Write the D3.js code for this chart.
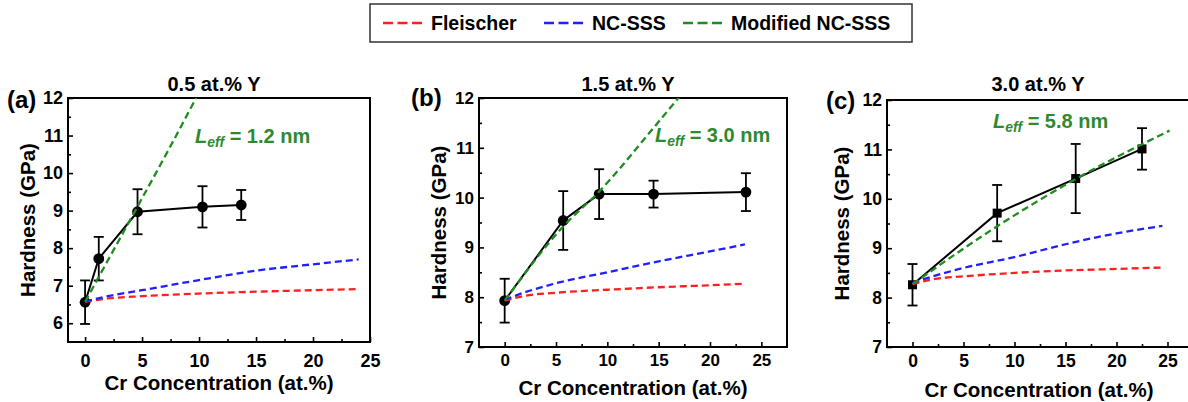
<!DOCTYPE html>
<html>
<head>
<meta charset="utf-8">
<script src="https://cdn.jsdelivr.net/npm/d3@7"></script>
<style>
  body { margin: 0; background: #fff; }
  svg { display: block; font-family: "Liberation Sans", Arial, sans-serif; font-weight: bold; }
</style>
</head>
<body>
<div id="chart"></div>
<script>
// ---- data ----
const xTicks = [0, 5, 10, 15, 20, 25];
const xMinor = [2.5, 7.5, 12.5, 17.5, 22.5];
const legendNames = ["Fleischer", "NC-SSS", "Modified NC-SSS"];
const panelLetters = ["(a)", "(b)", "(c)"];
const panelTitles = ["0.5 at.% Y", "1.5 at.% Y", "3.0 at.% Y"];
const leffValues = ["1.2", "3.0", "5.8"];

// (a) 0.5 at.% Y
const aConc = [0, 1.2, 4.6, 10.3, 13.7];
const aHard = [6.56, 7.72, 8.97, 9.10, 9.15];
const aErr = [0.58, 0.58, 0.60, 0.55, 0.40];
const aModelX = [0, 2, 5, 10, 15, 20, 24];
const aFleischer = [6.57, 6.66, 6.72, 6.79, 6.84, 6.88, 6.91];
const aNcsss = [6.58, 6.72, 6.88, 7.15, 7.40, 7.57, 7.70];
const aModX = [0, 2.5, 5, 7.5, 10];
const aModified = [6.57, 7.95, 9.33, 10.72, 12.15];

// (b) 1.5 at.% Y
const bConc = [0, 5.7, 9.2, 14.5, 23.5];
const bHard = [7.93, 9.54, 10.07, 10.07, 10.11];
const bErr = [0.44, 0.59, 0.50, 0.27, 0.38];
const bModelX = [0, 2, 5, 10, 15, 20, 23.4];
const bFleischer = [7.93, 8.03, 8.09, 8.15, 8.20, 8.24, 8.27];
const bNcsss = [7.95, 8.10, 8.28, 8.50, 8.72, 8.92, 9.06];
const bModX = [0, 5.7, 9.2, 14.5, 17];
const bModified = [7.93, 9.42, 10.12, 11.40, 12.02];

// (c) 3.0 at.% Y
const cConc = [0, 8.3, 16.0, 22.5];
const cHard = [8.26, 9.71, 10.41, 11.01];
const cErr = [0.42, 0.57, 0.70, 0.42];
const cModelX = [0, 2, 5, 10, 15, 20, 24.5];
const cFleischer = [8.27, 8.37, 8.43, 8.50, 8.55, 8.58, 8.61];
const cNcsss = [8.30, 8.43, 8.60, 8.82, 9.08, 9.30, 9.45];
const cModX = [0, 4, 8.2, 16, 25.2];
const cModified = [8.27, 8.85, 9.43, 10.40, 11.38];

const modelColors = ["#ff1f1f", "#1f1fff", "#1e8c1e"];
const leffColor = "#2f8a2f";

// ---- layout of the three panels (pixels) ----
const panels = [
  { key: "a", left: 68, right: 370, top: 98, bottom: 342, xDomain: [-1.5, 25], yDomain: [5.5, 12],
    yTicks: [6, 7, 8, 9, 10, 11, 12], yMinor: [6.5, 7.5, 8.5, 9.5, 10.5, 11.5], marker: "circle",
    tickFont: 18, xPad: 12, xTitleY: 390, yTitleX: 28, titleX: 214, letterX: 7, letterY: 108,
    leffX: 195, leffY: 143,
    conc: aConc, hard: aHard, err: aErr,
    models: [[aModelX, aFleischer], [aModelX, aNcsss], [aModX, aModified]] },
  { key: "b", left: 479, right: 787, top: 98, bottom: 347, xDomain: [-2.5, 27.5], yDomain: [7, 12],
    yTicks: [7, 8, 9, 10, 11, 12], yMinor: [7.5, 8.5, 9.5, 10.5, 11.5], marker: "circle",
    tickFont: 17, xPad: 7, xTitleY: 395, yTitleX: 439, titleX: 628, letterX: 411, letterY: 106,
    leffX: 655, leffY: 142,
    conc: bConc, hard: bHard, err: bErr,
    models: [[bModelX, bFleischer], [bModelX, bNcsss], [bModX, bModified]] },
  { key: "c", left: 887, right: 1193, top: 100, bottom: 347, xDomain: [-2.5, 27.5], yDomain: [7, 12],
    yTicks: [7, 8, 9, 10, 11, 12], yMinor: [7.5, 8.5, 9.5, 10.5, 11.5], marker: "square",
    tickFont: 17.5, xPad: 8, xTitleY: 397, yTitleX: 842, titleX: 1038, letterX: 826, letterY: 109,
    leffX: 993, leffY: 128,
    conc: cConc, hard: cHard, err: cErr,
    models: [[cModelX, cFleischer], [cModelX, cNcsss], [cModX, cModified]] }
];

const svg = d3.select("#chart")
  .append("svg")
  .attr("width", 1188)
  .attr("height", 402);

const defs = svg.append("defs");

// strip the default axis styling so our font applies
function styleAxis(sel, size) {
  sel.attr("font-family", null).attr("font-size", null);
  sel.select(".domain").remove();
  sel.selectAll("line").attr("stroke", "#000").attr("stroke-width", 1.6);
  sel.selectAll("text").attr("fill", "#000").attr("font-size", size);
}

function drawPanel(p, i) {
  const x = d3.scaleLinear().domain(p.xDomain).range([p.left, p.right]);
  const y = d3.scaleLinear().domain(p.yDomain).range([p.bottom, p.top]);
  const g = svg.append("g");

  // clip everything that leaves the plot box (green line goes past 12)
  defs.append("clipPath")
    .attr("id", "clip-" + p.key)
    .append("rect")
    .attr("x", p.left).attr("y", p.top)
    .attr("width", p.right - p.left).attr("height", p.bottom - p.top);

  // Add X axis (ticks point inward)
  g.append("g")
    .attr("transform", `translate(0, ${p.bottom})`)
    .call(d3.axisBottom(x).tickValues(xMinor).tickSize(-3).tickFormat(""))
    .call(s => styleAxis(s, p.tickFont));
  g.append("g")
    .attr("transform", `translate(0, ${p.bottom})`)
    .call(d3.axisBottom(x).tickValues(xTicks).tickSize(-5).tickPadding(p.xPad).tickFormat(d3.format("d")))
    .call(s => styleAxis(s, p.tickFont));

  // Add Y axis
  g.append("g")
    .attr("transform", `translate(${p.left}, 0)`)
    .call(d3.axisLeft(y).tickValues(p.yMinor).tickSize(-3).tickFormat(""))
    .call(s => styleAxis(s, p.tickFont));
  g.append("g")
    .attr("transform", `translate(${p.left}, 0)`)
    .call(d3.axisLeft(y).tickValues(p.yTicks).tickSize(-5).tickPadding(5).tickFormat(d3.format("d")))
    .call(s => styleAxis(s, p.tickFont));

  // frame
  g.append("rect")
    .attr("x", p.left).attr("y", p.top)
    .attr("width", p.right - p.left).attr("height", p.bottom - p.top)
    .attr("fill", "none").attr("stroke", "#000").attr("stroke-width", 2);

  // measured data: line, error bars, markers
  const pts = p.conc.map((c, j) => ({ c: c, h: p.hard[j], e: p.err[j] }));
  g.append("path")
    .datum(pts)
    .attr("fill", "none").attr("stroke", "#000").attr("stroke-width", 2)
    .attr("d", d3.line().x(d => x(d.c)).y(d => y(d.h)));

  const bars = g.append("g").attr("stroke", "#000").attr("stroke-width", 1.8);
  pts.forEach(d => {
    bars.append("line").attr("x1", x(d.c)).attr("x2", x(d.c)).attr("y1", y(d.h - d.e)).attr("y2", y(d.h + d.e));
    bars.append("line").attr("x1", x(d.c) - 5).attr("x2", x(d.c) + 5).attr("y1", y(d.h - d.e)).attr("y2", y(d.h - d.e));
    bars.append("line").attr("x1", x(d.c) - 5).attr("x2", x(d.c) + 5).attr("y1", y(d.h + d.e)).attr("y2", y(d.h + d.e));
  });

  if (p.marker === "circle") {
    g.selectAll(".pt").data(pts).join("circle")
      .attr("cx", d => x(d.c)).attr("cy", d => y(d.h)).attr("r", 5.4).attr("fill", "#000");
  } else {
    g.selectAll(".pt").data(pts).join("rect")
      .attr("x", d => x(d.c) - 4.5).attr("y", d => y(d.h) - 4.5)
      .attr("width", 9).attr("height", 9).attr("fill", "#000");
  }

  // model curves on top
  const modelLine = d3.line().curve(d3.curveMonotoneX).x(d => x(d[0])).y(d => y(d[1]));
  const models = g.append("g").attr("clip-path", `url(#clip-${p.key})`);
  p.models.forEach((m, k) => {
    models.append("path")
      .datum(m[0].map((v, j) => [v, m[1][j]]))
      .attr("fill", "none")
      .attr("stroke", modelColors[k])
      .attr("stroke-width", 2.3)
      .attr("stroke-dasharray", "7,4")
      .attr("d", modelLine);
  });

  // texts
  g.append("text")
    .attr("x", p.titleX).attr("y", 91)
    .attr("text-anchor", "middle").attr("font-size", 20)
    .text(panelTitles[i]);
  g.append("text")
    .attr("x", p.letterX).attr("y", p.letterY)
    .attr("font-size", 24)
    .text(panelLetters[i]);
  g.append("text")
    .attr("x", (p.left + p.right) / 2 + (p.key === "c" ? -1 : 0))
    .attr("y", p.xTitleY)
    .attr("text-anchor", "middle").attr("font-size", 20.5)
    .text("Cr Concentration (at.%)");
  g.append("text")
    .attr("transform", `translate(${p.yTitleX}, ${(p.top + p.bottom) / 2}) rotate(-90)`)
    .attr("text-anchor", "middle").attr("dy", "0.35em").attr("font-size", 20.5)
    .text("Hardness (GPa)");

  const leff = g.append("text")
    .attr("x", p.leffX).attr("y", p.leffY)
    .attr("font-size", 20).attr("fill", leffColor);
  leff.append("tspan").attr("font-style", "italic").text("L");
  leff.append("tspan").attr("font-style", "italic").attr("font-size", 14).attr("dy", 4).text("eff");
  leff.append("tspan").attr("dy", -4).text(" = " + leffValues[i] + " nm");
}

panels.forEach(drawPanel);

// legend box on top
const legend = svg.append("g");
legend.append("rect")
  .attr("x", 370).attr("y", 4).attr("width", 542).attr("height", 38)
  .attr("fill", "#fff").attr("stroke", "#333").attr("stroke-width", 1.5);
const legendX = [383, 544, 683];
legendNames.forEach((name, k) => {
  legend.append("line")
    .attr("x1", legendX[k]).attr("x2", legendX[k] + 39)
    .attr("y1", 23).attr("y2", 23)
    .attr("stroke", modelColors[k]).attr("stroke-width", 2.5)
    .attr("stroke-dasharray", "10,4.5");
  legend.append("text")
    .attr("x", legendX[k] + 48).attr("y", 30)
    .attr("font-size", 19.5)
    .text(name);
});
</script>
</body>
</html>
